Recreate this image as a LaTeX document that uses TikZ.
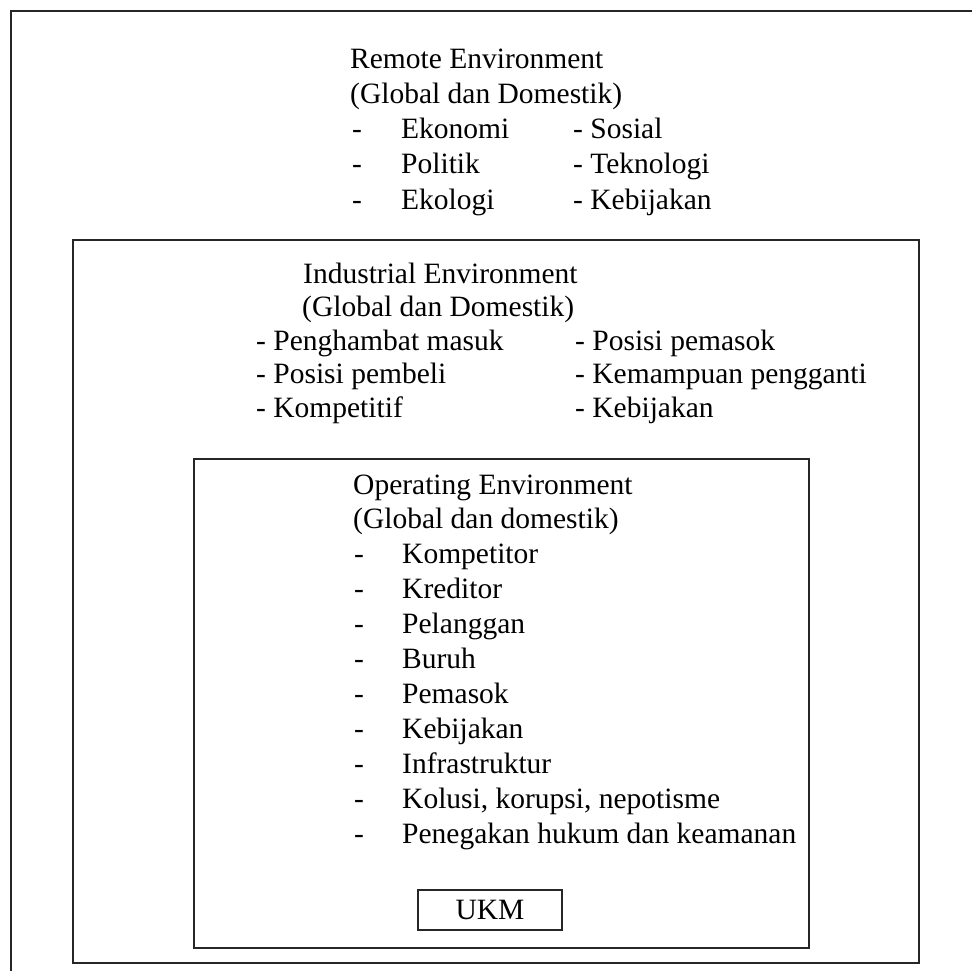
\documentclass[tikz,border=0pt]{standalone}
\usepackage{fontspec}
\setmainfont{Liberation Serif}
\tikzset{
  txt/.style={anchor=base west, inner sep=0pt, font=\fontsize{29.5}{34}\selectfont},
  kotak/.style={draw=black!85, line width=2.3pt},
}
\begin{document}
\begin{tikzpicture}[x=1pt,y=-1pt]
	\useasboundingbox (0,0) rectangle (972,971);
	\clip (0,0) rectangle (972,971);
	% les cadres
	\draw[kotak] (11,11) rectangle (990,990);
	\draw[kotak] (73,240) rectangle (919,963);
	\draw[kotak] (194,459) rectangle (809,948);
	% remote environment
	\node[txt] (rT1) at (350,69) {Remote Environment};
	\node[txt] (rT2) at (350,104) {(Global dan Domestik)};
	\node[txt] (rD1) at (352,139) {-};
	\node[txt] (rD2) at (352,174) {-};
	\node[txt] (rD3) at (352,209) {-};
	\node[txt] (rA1) at (401,139) {Ekonomi};
	\node[txt] (rA2) at (401,174) {Politik};
	\node[txt] (rA3) at (401,209) {Ekologi};
	\node[txt] (rB1) at (573,139) {- Sosial};
	\node[txt] (rB2) at (573,174) {- Teknologi};
	\node[txt] (rB3) at (573,209) {- Kebijakan};
	% industrial environment
	\node[txt] (iT1) at (303,283) {Industrial Environment};
	\node[txt] (iT2) at (302,316) {(Global dan Domestik)};
	\node[txt] (iA1) at (256,350) {- Penghambat masuk};
	\node[txt] (iA2) at (256,383) {- Posisi pembeli};
	\node[txt] (iA3) at (256,417) {- Kompetitif};
	\node[txt] (iB1) at (575,350) {- Posisi pemasok};
	\node[txt] (iB2) at (575,383) {- Kemampuan pengganti};
	\node[txt] (iB3) at (575,417) {- Kebijakan};
	% operating environment
	\node[txt] (oT1) at (353,494) {Operating Environment};
	\node[txt] (oT2) at (353,528) {(Global dan domestik)};
	\foreach \nm [count=\i] in {Kompetitor, Kreditor, Pelanggan, Buruh, Pemasok, Kebijakan, Infrastruktur, {Kolusi, korupsi, nepotisme}, Penegakan hukum dan keamanan}{
		\node[txt] (oD\i) at (354,528+35*\i) {-};
		\node[txt] (oA\i) at (402,528+35*\i) {\nm};
	}
	% la ukm
	\node[kotak, minimum width=144pt, minimum height=40pt, inner sep=0pt,
	      font=\fontsize{29.5}{34}\selectfont] (ukm) at (490,910) {UKM};
\end{tikzpicture}
\end{document}
